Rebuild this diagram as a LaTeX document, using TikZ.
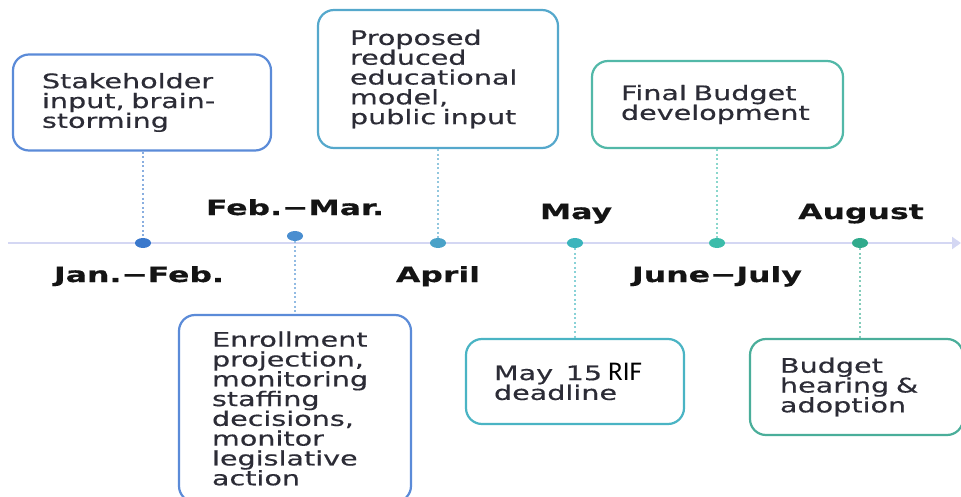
\documentclass[tikz,border=0pt]{standalone}
\usepackage{fontspec}
\usetikzlibrary{arrows.meta,shapes.geometric}

% Wide humanist sans for box texts and month labels
\newfontfamily\boxfont[FakeStretch=1.43,FakeBold=0.5]{DejaVu Sans}
\newfontfamily\datefont[FakeStretch=1.5,FakeBold=0.4]{DejaVu Sans}
\newfontfamily\riffont{Carlito}

\definecolor{axis}{HTML}{D4D7F3}
\definecolor{txt}{HTML}{2C2C36}
\definecolor{lbl}{HTML}{141414}
\definecolor{cA}{HTML}{5B8BD8}
\definecolor{cB}{HTML}{55A8CC}
\definecolor{cC}{HTML}{52B8A8}
\definecolor{cD}{HTML}{4AB4C4}
\definecolor{cE}{HTML}{4AAE9A}
\definecolor{dA}{HTML}{3A78CC}
\definecolor{dB}{HTML}{4A8ED0}
\definecolor{dC}{HTML}{4AA2C8}
\definecolor{dD}{HTML}{3AB4BC}
\definecolor{dE}{HTML}{3CBCAA}
\definecolor{dF}{HTML}{30AA8C}

\tikzset{
  event/.style={draw, rounded corners=16pt, line width=2.2pt, fill=white,
    align=left, text=txt, inner ysep=0pt,
    font=\boxfont\fontsize{20}{19.8}\selectfont},
  milestone/.style={ellipse, minimum width=16pt, minimum height=10pt,
    inner sep=0pt},
  month/.style={anchor=base, text=lbl,
    font=\datefont\bfseries\fontsize{21}{22}\selectfont},
  tick/.style={line width=2.2pt, dash pattern=on 2pt off 2.6pt},
  axisline/.style={draw=axis, line width=2.4pt,
    -{Triangle[length=9pt,width=12pt]}}
}

\begin{document}
\begin{tikzpicture}[x=1pt,y=-1pt]
\useasboundingbox (0,0) rectangle (961,497);

% time axis
\coordinate (t0) at (8,243);
\coordinate (t1) at (961,243);
\draw[axisline] (t0) -- (t1);

% milestones on the axis
\node[milestone, fill=dA] (d1) at (143,243) {};
\node[milestone, fill=dB] (d2) at (295,236) {};
\node[milestone, fill=dC] (d3) at (438,243) {};
\node[milestone, fill=dD] (d4) at (575,243) {};
\node[milestone, fill=dE] (d5) at (717,243) {};
\node[milestone, fill=dF] (d6) at (860,243) {};

% month labels
\node[month] (m1) at (139,282) {Jan.−Feb.};
\node[month] (m2) at (295,215) {Feb.−Mar.};
\node[month] (m3) at (438,282) {April};
\node[month] (m4) at (576,219) {May};
\node[month] (m5) at (717,282) {June−July};
\node[month] (m6) at (861,219) {August};

% event boxes above the axis
\node[event, draw=cA, text width=200pt, inner xsep=29pt, minimum height=96pt]
  (b1) at (142,102.5) {Stakeholder\\input, brain-\\storming};
\node[event, draw=cB, text width=176pt, inner xsep=32pt, minimum height=138pt]
  (b2) at (438,79) {Proposed\\reduced\\educational\\model,\\public input};
\node[event, draw=cC, text width=193pt, inner xsep=29pt, minimum height=87pt]
  (b3) at (717.5,104.5) {Final Budget\\development};

% event boxes below the axis
\node[event, draw=cA, text width=166pt, inner xsep=33pt, minimum height=187pt]
  (b4) at (295,408.5) {Enrollment\\projection,\\monitoring\\staffing\\decisions,\\monitor\\legislative\\action};
\node[event, draw=cD, text width=162pt, inner xsep=28pt, minimum height=85pt]
  (b5) at (575,381.5) {May\hspace{6pt} 15\hspace{6pt}{\riffont\fontsize{27}{25}\selectfont\color{black}RIF}\\deadline};
\node[event, draw=cE, text width=153pt, inner xsep=30pt, minimum height=96pt]
  (b6) at (856.5,387) {Budget\\hearing \&\\adoption};

% dotted leaders from boxes to milestones
\draw[tick, draw=dA!60] (d1 |- b1.south) -- (d1);
\draw[tick, draw=dB!60] (d2) -- (d2 |- b4.north);
\draw[tick, draw=dC!60] (d3 |- b2.south) -- (d3);
\draw[tick, draw=dD!60] (d4) -- (d4 |- b5.north);
\draw[tick, draw=dE!60] (d5 |- b3.south) -- (d5);
\draw[tick, draw=dF!60] (d6) -- (d6 |- b6.north);
\end{tikzpicture}
\end{document}
